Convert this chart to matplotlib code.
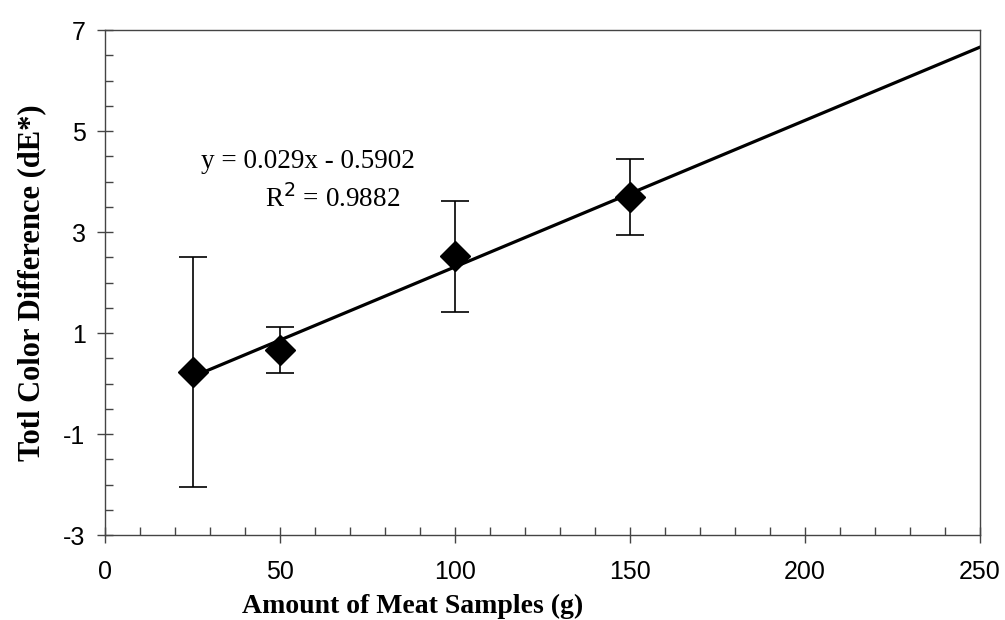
import numpy as np
import matplotlib
matplotlib.use("Agg")
import matplotlib.pyplot as plt
from matplotlib.ticker import MultipleLocator

plt.rcParams["axes.unicode_minus"] = False

# Data
meat_g = [25, 50, 100, 150]
dE_mean = [0.23, 0.66, 2.52, 3.69]
dE_err = [2.27, 0.46, 1.10, 0.75]

# Linear trend shown on the chart
slope = 0.029
intercept = -0.5902
r2 = 0.9882
fit_x = np.array([25, 250])

fig = plt.figure(figsize=(10.05, 6.2), dpi=100)
ax = fig.add_axes([0.1045, 0.137, 0.8705, 0.8146])

ax.plot(fit_x, slope * fit_x + intercept, color="black", lw=2.3, zorder=2)
ax.errorbar(meat_g, dE_mean, yerr=dE_err, fmt="D", color="black",
            ms=15, ecolor="black", elinewidth=1.2, capsize=10, capthick=1.2,
            zorder=3)

ax.set_xlim(0, 250)
ax.set_ylim(-3, 7)
ax.set_xticks([0, 50, 100, 150, 200, 250])
ax.set_yticks([-3, -1, 1, 3, 5, 7])
ax.xaxis.set_minor_locator(MultipleLocator(10))
ax.yaxis.set_minor_locator(MultipleLocator(0.5))
ax.tick_params(which="major", direction="inout", length=12, width=1,
               labelsize=18, color="#444444")
ax.tick_params(which="minor", direction="in", length=6, width=1,
               color="#444444")
ax.tick_params(axis="x", pad=12)
ax.tick_params(axis="y", pad=8)
for lab in ax.get_xticklabels() + ax.get_yticklabels():
    lab.set_fontfamily("Liberation Sans")

for s in ax.spines.values():
    s.set_linewidth(1)
    s.set_color("#444444")

# the x title sits left of centre in the original
ax.set_xlabel("Amount of Meat Samples (g)", fontfamily="Liberation Serif",
              fontweight="bold", fontsize=20, labelpad=7, x=0.352)
ax.set_ylabel("Totl Color Difference (dE*)", fontfamily="Liberation Serif",
              fontweight="bold", fontsize=22, labelpad=12)

ax.text(0.232, 0.74, f"y = {slope}x - {abs(intercept)}", transform=ax.transAxes,
        fontfamily="Liberation Serif", fontsize=19.5, ha="center", va="center")
ax.text(0.26, 0.665, f"R$^2$ = {r2}", transform=ax.transAxes,
        fontfamily="Liberation Serif", fontsize=19.5, ha="center", va="center")

fig.savefig("out.png", dpi=100)
